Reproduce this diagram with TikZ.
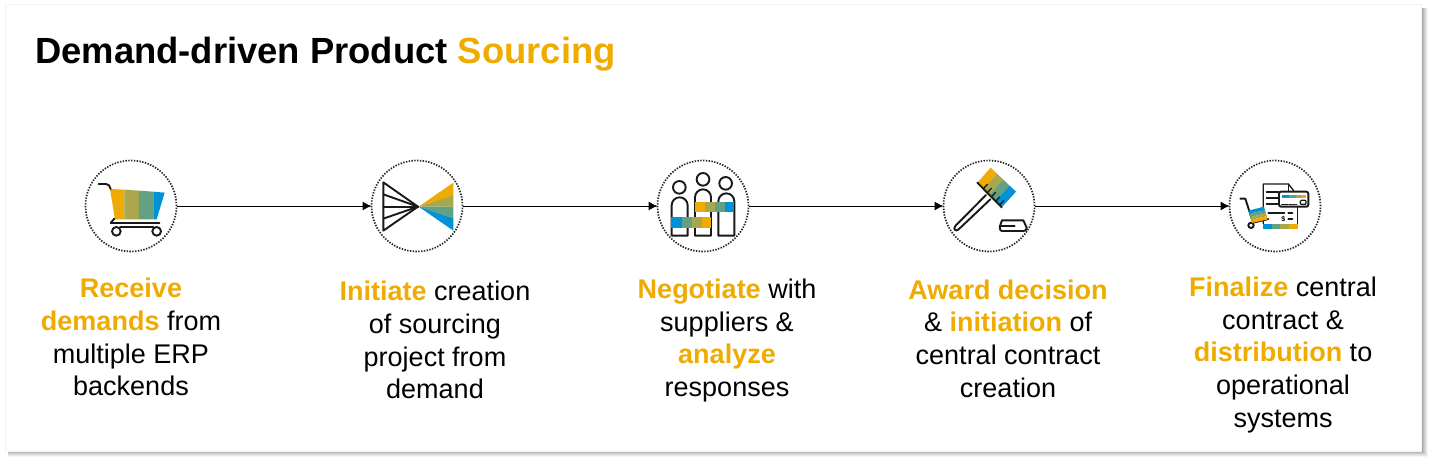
\documentclass[tikz,border=0pt]{standalone}
\usepackage{fontspec}
\setmainfont{Liberation Sans}
\usetikzlibrary{arrows.meta}
\definecolor{sorange}{HTML}{F0AB00}
\definecolor{solive}{HTML}{A9A64C}
\definecolor{sgreen}{HTML}{63A182}
\definecolor{sblue}{HTML}{0092D6}
\newcommand{\hl}[1]{\textcolor{sorange}{\textbf{#1}}}
\tikzset{
  ring/.style={circle,draw=black!85,line width=1.7pt,dash pattern=on 1.4pt off 1.4pt,minimum size=91pt,inner sep=0pt,outer sep=0pt},
  conn/.style={draw=black,line width=1pt,-{Latex[length=9pt,width=9pt]}},
  lbl/.style={align=center,text=black,inner sep=0pt,anchor=center,font=\fontsize{27}{32.7}\selectfont},
  ink/.style={draw=black!90,line width=1.9pt,line cap=round,line join=round},
  thin ink/.style={draw=black!90,line width=1.3pt,line cap=round,line join=round}
}
\begin{document}
\begin{tikzpicture}[x=1pt,y=-1pt]
\useasboundingbox (0,0) rectangle (1431,461);
\fill[white] (0,0) rectangle (1431,461);
% soft shadow
\foreach \d/\o in {8/0.04,7/0.05,6/0.06,5/0.07,4/0.08,3/0.09,2/0.10,1/0.11}{
  \fill[black,opacity=\o] (8,8) rectangle (1420+\d,449+\d);
}
\fill[white] (5,4) rectangle (1421,451);
\draw[black!5,line width=0.6pt] (5,4) rectangle (1421,451);

\node[anchor=base west,inner sep=0pt,font=\fontsize{36.4}{40}\selectfont\bfseries] (title) at (35,63) {Demand-driven Product \textcolor{sorange}{Sourcing}};

\node[ring] (c1) at (131,206) {};
\node[ring] (c2) at (417,206) {};
\node[ring] (c3) at (703,206) {};
\node[ring] (c4) at (989,206) {};
\node[ring] (c5) at (1275,206) {};
\draw[conn] (c1) -- (c2);
\draw[conn] (c2) -- (c3);
\draw[conn] (c3) -- (c4);
\draw[conn] (c4) -- (c5);

% cart icon
\begin{scope}[shift={(70,150)},x=0.3333pt,y=-0.3333pt]
\fill[sorange] (120,117) -- (163,119) -- (163,208) -- (135,208) -- cycle;
\fill[solive] (163,119) -- (207,122) -- (207,208) -- (163,208) -- cycle;
\fill[sgreen] (207,122) -- (250,125) -- (250,208) -- (207,208) -- cycle;
\fill[sblue] (250,125) -- (284,128) -- (260,208) -- (250,208) -- cycle;
\draw[ink] (86,102) -- (108,102) .. controls (116,102) and (120,108) .. (122,117);
\draw[ink] (133,206) -- (122,219) -- (268,219);
\draw[ink] (150,232) -- (250,232);
\draw[ink] (139,244) circle (13);
\draw[ink] (260,244) circle (13);
\end{scope}

% funnel icon
\begin{scope}[shift={(360,150)},x=0.3333pt,y=-0.3333pt]
\fill[sorange] (176,170) -- (280,98) -- (280,135) -- cycle;
\fill[solive] (176,170) -- (280,135) -- (280,170) -- cycle;
\fill[sgreen] (176,170) -- (280,170) -- (280,205) -- cycle;
\fill[sblue] (176,170) -- (280,205) -- (280,242) -- cycle;
\draw[ink] (70,97) -- (70,242) -- (174,170) -- cycle;
\draw[ink] (70,133) -- (174,170) -- (70,206);
\draw[ink] (70,170) -- (174,170);
\end{scope}

% people icon
\begin{scope}[shift={(645,150)},x=0.3333pt,y=-0.3333pt]
\draw[ink] (103,112) circle (19);
\draw[ink] (174,88) circle (19);
\draw[ink] (242,100) circle (19);
\draw[ink] (80,257) -- (80,166) arc[start angle=180,end angle=360,radius=24] -- (128,257) -- cycle;
\draw[ink] (150,257) -- (150,142) arc[start angle=180,end angle=360,radius=24] -- (198,257) -- cycle;
\draw[ink] (220,257) -- (220,154) arc[start angle=180,end angle=360,radius=24] -- (268,257) -- cycle;
\fill[sorange] (149,155) rectangle (180,187);
\fill[solive] (180,155) rectangle (210,187);
\fill[sgreen] (210,155) rectangle (240,187);
\fill[sblue] (240,155) rectangle (268,187);
\fill[sblue] (78,200) rectangle (110,233);
\fill[sgreen] (110,200) rectangle (140,233);
\fill[solive] (140,200) rectangle (170,233);
\fill[sorange] (170,200) rectangle (199,233);
\end{scope}

% gavel icon
\begin{scope}[shift={(930,150)},x=0.3333pt,y=-0.3333pt]
\fill[sorange] (142,98) -- (182,53) -- (201,71) -- (160,116) -- cycle;
\fill[solive] (160,116) -- (201,71) -- (220,89) -- (178,135) -- cycle;
\fill[sgreen] (178,135) -- (220,89) -- (239,107) -- (197,154) -- cycle;
\fill[sblue] (197,154) -- (239,107) -- (258,125) -- (215,172) -- cycle;
\draw[ink] (142,98) -- (215,172);
\foreach \a/\b in {160/116,172/128,184/141,197/154,209/165}{
  \draw[thin ink] (\a,\b) -- ++(12,-13);
}
\draw[ink] (168,135) -- (76,228) .. controls (68,238) and (78,246) .. (86,238) -- (181,148);
\draw[ink] (216,211) -- (280,211) -- (290,233) .. controls (290,240) and (286,243) .. (280,243) -- (216,243) .. controls (208,243) and (208,228) .. (211,225) -- cycle;
\draw[ink] (214,227) -- (254,227);
\end{scope}

% contract icon
\begin{scope}[shift={(1215,150)},x=0.3333pt,y=-0.3333pt]
\draw[thin ink] (145,222) -- (145,102) -- (220,102) -- (236,122);
\draw[thin ink] (220,102) -- (220,122);
\draw[thin ink] (248,172) -- (248,224);
\foreach \yy in {127,145,163}{\draw[ink] (155,\yy) -- (190,\yy);}
\draw[ink] (160,190) -- (208,190);
\draw[ink] (220,190) -- (232,190);
\draw[ink] (220,207) -- (232,207);
\node[inner sep=0pt,font=\fontsize{7}{7}\selectfont\bfseries] (dollar) at (205,207) {\$};
\fill[sblue] (143,222) rectangle (170,237);
\fill[sgreen] (170,222) rectangle (196,237);
\fill[solive] (196,222) rectangle (222,237);
\fill[sorange] (222,222) rectangle (249,237);
% card
\fill[white] (192,125) rectangle (280,170);
\draw[ink,rounded corners=2pt] (192,125) rectangle (280,170);
\fill[sblue] (200,134) rectangle (222,143);
\fill[sgreen] (222,134) rectangle (242,143);
\fill[solive] (242,134) rectangle (258,143);
\fill[sorange] (258,134) rectangle (272,143);
\draw[thin ink,rounded corners=1pt] (256,151) rectangle (273,163);
\draw[thin ink] (200,163) -- (218,163);
\draw[thin ink,dash pattern=on 1.2pt off 1pt] (222,163) -- (245,163);
% hand truck
\draw[ink] (76,146) -- (91,146) -- (114,218) -- (160,207);
\draw[ink] (108,226) circle (8);
\fill[sblue] (100,182) -- (147,170) -- (150,180) -- (103,192) -- cycle;
\fill[sgreen] (103,192) -- (150,180) -- (153,190) -- (106,201) -- cycle;
\fill[solive] (106,201) -- (153,190) -- (155,198) -- (108,210) -- cycle;
\fill[sorange] (108,210) -- (155,198) -- (158,208) -- (111,219) -- cycle;
\end{scope}

\node[lbl] (t1) at (131,337) {\hl{Receive}\\\hl{demands} from\\multiple ERP\\backends};
\node[lbl] (t2) at (435,340) {\hl{Initiate} creation\\of sourcing\\project from\\demand};
\node[lbl] (t3) at (727,340.5) {\hl{Negotiate} with\\suppliers \&\\\hl{analyze}\\responses};
\node[lbl] (t4) at (1008,338.5) {\hl{Award decision}\\\& \hl{initiation} of\\central contract\\creation};
\node[lbl] (t5) at (1283,355) {\hl{Finalize} central\\contract \&\\\hl{distribution} to\\operational\\systems};
\end{tikzpicture}
\end{document}
